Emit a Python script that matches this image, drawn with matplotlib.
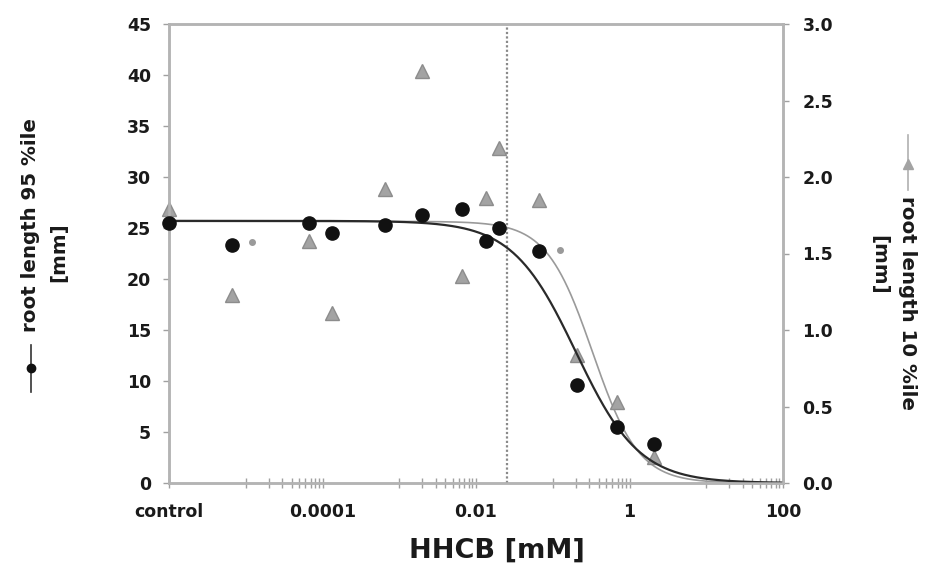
import numpy as np
import matplotlib
matplotlib.use("Agg")
import matplotlib.pyplot as plt
from matplotlib.lines import Line2D

plt.rcParams['font.family'] = ['DejaVu Sans']
plt.rcParams['font.weight'] = 'bold'

# ---- data ----
# root length 95 %ile (left axis, mm), black circles
conc_95 = [1e-6, 6.7e-6, 6.7e-5, 1.33e-4, 6.6e-4, 2.0e-3, 6.6e-3, 1.36e-2, 2.0e-2, 6.7e-2, 0.204, 0.68, 2.09]
len_95 = [25.5, 23.3, 25.5, 24.5, 25.3, 26.3, 26.9, 23.7, 25.0, 22.7, 9.6, 5.5, 3.8]

# root length 10 %ile (right axis, mm), grey triangles
conc_10 = [1e-6, 6.7e-6, 6.7e-5, 1.33e-4, 6.6e-4, 2.0e-3, 6.6e-3, 1.36e-2, 2.0e-2, 6.7e-2, 0.204, 0.68, 2.09]
len_10 = [1.79, 1.23, 1.58, 1.11, 1.92, 2.69, 1.35, 1.86, 2.19, 1.85, 0.834, 0.53, 0.17]

# small grey dots (left axis)
conc_dot = [1.2e-5, 0.123]
len_dot = [23.6, 22.8]

# fitted log-logistic curves (top, EC50 [mM], slope)
fit_95 = dict(top=25.7, ec50=0.20, slope=1.05)
fit_10 = dict(top=1.71, ec50=0.33, slope=1.45)

ref_line = 0.025  # dotted vertical line [mM]

xticks = [1e-6, 1e-4, 1e-2, 1, 100]
xticklabels = ['control', '0.0001', '0.01', '1', '100']
yticks_left = [0, 5, 10, 15, 20, 25, 30, 35, 40, 45]
yticks_right = [0.0, 0.5, 1.0, 1.5, 2.0, 2.5, 3.0]

# ---- figure ----
W, H = 926, 580
fig = plt.figure(figsize=(W / 100, H / 100), dpi=100)
ax = fig.add_axes([169 / W, 1 - 483 / H, (783 - 169) / W, (483 - 24) / H])
ax2 = ax.twinx()
ax.set_zorder(ax2.get_zorder() + 1)
ax.patch.set_visible(False)

spine_c = '#b4b4b4'
tick_c = '#a0a0a0'
txt_c = '#1a1a1a'

ax.set_xscale('log')
ax.set_xlim(1e-6, 100)
ax.set_ylim(0, 45)
ax2.set_ylim(0, 3.0)

def hill(x, p):
    return p['top'] / (1 + (x / p['ec50']) ** p['slope'])

xx = np.logspace(-6, 2, 600)
ax2.plot(xx, hill(xx, fit_10), color='#9a9a9a', lw=1.2, zorder=2)
ax.plot(xx, hill(xx, fit_95), color='#2a2a2a', lw=1.6, zorder=2)

ax.axvline(ref_line, color='#8a8a8a', lw=1.6, ls=(0, (1, 1)), zorder=1)

ax2.plot(conc_10, len_10, ls='none', marker='^', ms=10, mfc='#a3a3a3', mec='#8c8c8c',
         mew=1, clip_on=False, zorder=3)
ax.plot(conc_95, len_95, ls='none', marker='o', ms=9.5, mfc='#111111', mec='#111111',
        clip_on=False, zorder=4)
ax.plot(conc_dot, len_dot, ls='none', marker='o', ms=4, mfc='#9a9a9a', mec='#9a9a9a',
        clip_on=False, zorder=4)

# ticks
ax.set_xticks(xticks)
ax.set_xticklabels(xticklabels)
minor = [k * 10.0 ** e for e in (-5, -3, -1, 1) for k in range(1, 10)]
ax.set_xticks(minor, minor=True)
ax.xaxis.set_minor_formatter(matplotlib.ticker.NullFormatter())
ax.tick_params(axis='x', which='both', direction='inout', length=7, width=1,
               color=tick_c, labelsize=12.5, pad=11, labelcolor=txt_c)
ax.set_yticks(yticks_left)
ax.tick_params(axis='y', which='both', direction='out', length=4, width=1,
               color=tick_c, labelsize=12.5, pad=9, labelcolor=txt_c)
ax2.set_yticks(yticks_right)
ax2.set_yticklabels([f'{v:.1f}' for v in yticks_right])
ax2.tick_params(axis='y', which='both', direction='out', length=4, width=1,
                color=tick_c, labelsize=12.5, pad=10, labelcolor=txt_c)
for lab in ax.get_xticklabels() + ax.get_yticklabels() + ax2.get_yticklabels():
    lab.set_fontweight('bold')

for a in (ax, ax2):
    for s in a.spines.values():
        s.set_color(spine_c)
        s.set_linewidth(1.8)

# x label
fig.text(497 / W, 1 - 551 / H, 'HHCB [mM]', ha='center', va='center',
         fontsize=19.5, fontweight='bold', color=txt_c)

def fx(x):
    return x / W

def fy(y):
    return 1 - y / H

title_fs = 14.3

# left axis title with legend key
fig.text(fx(31), fy(332), 'root length 95 %ile', rotation=90, ha='center', va='bottom',
         fontsize=title_fs, fontweight='bold', color=txt_c)
fig.text(fx(59), fy(252), '[mm]', rotation=90, ha='center', va='center',
         fontsize=title_fs, fontweight='bold', color=txt_c)
fig.add_artist(Line2D([fx(31), fx(31)], [fy(345), fy(392)], color='#333333', lw=1.2,
                      transform=fig.transFigure))
fig.add_artist(Line2D([fx(31)], [fy(368)], marker='o', ms=6, color='#111111',
                      transform=fig.transFigure))

# right axis title with legend key
fig.text(fx(908), fy(196), 'root length 10 %ile', rotation=-90, ha='center', va='top',
         fontsize=title_fs, fontweight='bold', color=txt_c)
fig.text(fx(879), fy(265), '[mm]', rotation=-90, ha='center', va='center',
         fontsize=title_fs, fontweight='bold', color=txt_c)
fig.add_artist(Line2D([fx(908), fx(908)], [fy(135), fy(190)], color='#b0b0b0', lw=1.2,
                      transform=fig.transFigure))
fig.add_artist(Line2D([fx(908)], [fy(164)], marker='^', ms=7, mfc='#a3a3a3', mec='#a3a3a3',
                      transform=fig.transFigure))

fig.savefig('out.png', dpi=100)
